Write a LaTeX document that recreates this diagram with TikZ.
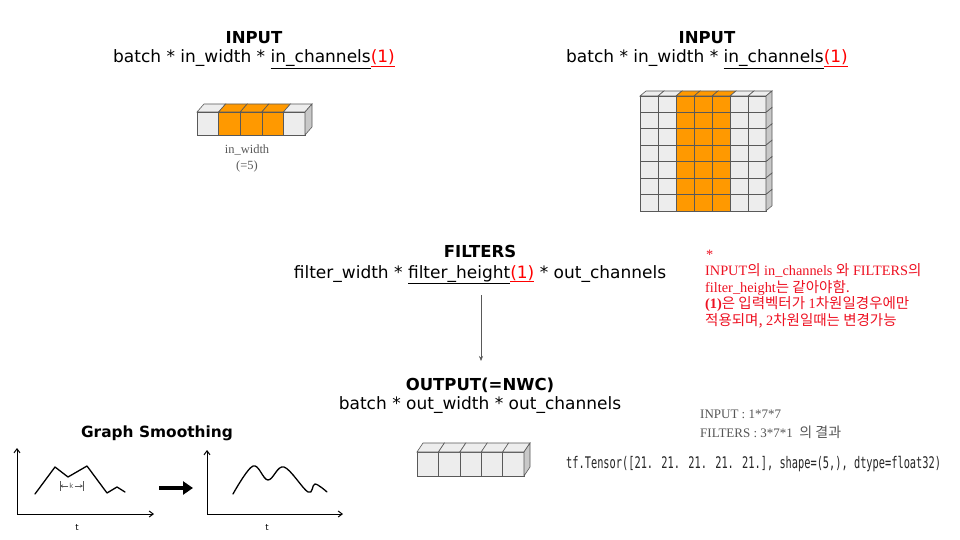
\documentclass[tikz,border=0pt]{standalone}
\usepackage{fontspec}
\usepackage{graphicx}
\setmainfont{Liberation Serif}
\newfontfamily\comicfont{DejaVu Sans}
\newfontfamily\krfont{Noto Sans CJK KR}
\newfontfamily\codefont{DejaVu Sans Mono}
\usetikzlibrary{arrows.meta}
\definecolor{cellgray}{HTML}{EDEDED}
\definecolor{sidegray}{HTML}{C8C8C8}
\definecolor{edgegray}{HTML}{595959}
\definecolor{cellorange}{HTML}{FF9900}
\definecolor{notered}{HTML}{EE1122}
\definecolor{infogray}{HTML}{555555}
\newcommand{\kr}[1]{{\krfont\fontsize{14.5}{16.5}\selectfont #1}}
\newcommand{\krsmall}[1]{{\krfont\fontsize{14}{19}\selectfont #1}}
% front face, top face and side face of one cell: x, y, w, h, fill, dx, dy
\newcommand{\frontcell}[5]{\filldraw[cellline, fill=#5] (#1,#2) rectangle ++(#3,#4);}
\newcommand{\topcell}[7]{\filldraw[cellline, fill=#5] (#1,#2) -- ++(#6,-#7) -- ++(#3,0) -- ++(-#6,#7) -- cycle;}
\newcommand{\sidecell}[7]{\filldraw[cellline, fill=sidegray] (#1+#3,#2) -- ++(#6,-#7) -- ++(0,#4) -- ++(-#6,#7) -- cycle;}
\tikzset{
  title/.style={font=\comicfont\bfseries\fontsize{16.5}{20}\selectfont, anchor=base, inner sep=0pt},
  dims/.style={font=\comicfont\fontsize{17}{20}\selectfont, anchor=base, inner sep=0pt},
  cellline/.style={draw=edgegray, line width=0.6pt},
  note/.style={font=\fontsize{14.3}{16.5}\selectfont, text=notered, anchor=base west, inner sep=0pt, align=left},
  info/.style={font=\fontsize{13}{19}\selectfont, text=infogray, anchor=base west, inner sep=0pt, align=left},
  axis/.style={line width=1pt, -{Straight Barb[length=4pt,width=6pt]}},
  curve/.style={line width=1.3pt, line join=round, line cap=round},
  tlabel/.style={font=\comicfont\fontsize{8.5}{9}\selectfont, inner sep=0pt},
}
\begin{document}
\begin{tikzpicture}[x=1pt, y=-1pt]
  \useasboundingbox[fill=white] (0,0) rectangle (960,540);

  % input (1D)
  \node[title] (intitle) at (254,44) {INPUT};
  \node[dims] (inshape) at (254,63) {batch * in\_width * \underline{in\_channels}\textcolor{red}{\underline{(1)}}};
  \foreach \i/\fc in {0/cellgray,1/cellorange,2/cellorange,3/cellorange,4/cellgray}{
    \frontcell{197+21.6*\i}{112}{21.6}{23}{\fc}
    \topcell{197+21.6*\i}{112}{21.6}{23}{\fc}{7}{8}
  }
  \sidecell{197+21.6*4}{112}{21.6}{23}{}{7}{8}
  \node[font=\fontsize{12.5}{16}\selectfont, text=edgegray, align=center, anchor=base] (inwidth) at (247,170) {in\_width\\(=5)};

  % input (2D)
  \node[title] (intitle2) at (707,44) {INPUT};
  \node[dims] (inshape2) at (707,63) {batch * in\_width * \underline{in\_channels}\textcolor{red}{\underline{(1)}}};
  \foreach \c/\fc in {0/cellgray,1/cellgray,2/cellorange,3/cellorange,4/cellorange,5/cellgray,6/cellgray}{
    \foreach \r in {0,...,6}{
      \frontcell{640+18*\c}{96+16.4*\r}{18}{16.4}{\fc}
    }
    \topcell{640+18*\c}{96}{18}{16.4}{\fc}{6}{5}
  }
  \foreach \r in {0,...,6}{
    \sidecell{640+18*6}{96+16.4*\r}{18}{16.4}{}{6}{5}
  }

  % filters
  \node[title] (filttitle) at (480,257) {FILTERS};
  \node[dims] (filtshape) at (480,278) {filter\_width * \underline{filter\_height}\textcolor{red}{\underline{(1)}} * out\_channels};
  \node[note] (star) at (706,259) {*};
  \node[note] (notetext) at (705,325) {INPUT\kr{의} in\_channels \kr{와} FILTERS\kr{의}\\
    filter\_height\kr{는 같아야함.}\\
    \textbf{(1)}\kr{은 입력벡터가} 1\kr{차원일경우에만}\\
    \kr{적용되며,} 2\kr{차원일때는 변경가능}};

  \coordinate (arrtop) at (481,295);
  \coordinate (arrbot) at (481,361);
  \draw[edgegray, line width=0.6pt, -{Stealth[length=5pt,width=4pt]}] (arrtop) -- (arrbot);

  % output
  \node[title] (outtitle) at (480,390) {OUTPUT(=NWC)};
  \node[dims] (outshape) at (480,409) {batch * out\_width * out\_channels};
  \node[info] (info) at (700,437) {INPUT : 1*7*7\\FILTERS : 3*7*1 \ \krsmall{의 결과}};
  \foreach \i in {0,...,4}{
    \frontcell{417+21.4*\i}{452}{21.4}{24}{cellgray}
    \topcell{417+21.4*\i}{452}{21.4}{24}{cellgray}{6}{9}
  }
  \sidecell{417+21.4*4}{452}{21.4}{24}{}{6}{9}
  \node[anchor=base west, inner sep=0pt, text=black!85] (result) at (566,468)
    {\scalebox{0.645}[1]{\codefont\fontsize{16}{18}\selectfont tf.Tensor([21. 21. 21. 21. 21.], shape=(5,), dtype=float32)}};

  % graph smoothing
  \node[title, font=\comicfont\bfseries\fontsize{15.4}{18}\selectfont] (smooth) at (157,437) {Graph Smoothing};
  \coordinate (oL) at (17,514);
  \draw[axis] (oL) -- (17,448);
  \draw[axis] (oL) -- (154,514);
  \draw[curve] (35,494) -- (55,467) -- (68,477) -- (87,466) -- (107,493) -- (117,487) -- (125,492);
  \node[font=\comicfont\fontsize{7}{8}\selectfont, text=edgegray, inner sep=1pt] (k) at (71.5,486) {k};
  \coordinate (kL) at (60,486);
  \coordinate (kR) at (83,486);
  \draw[edgegray, line width=0.7pt, -{Stealth[length=3pt,width=3pt]}] (k) -- (kL);
  \draw[edgegray, line width=0.7pt, -{Stealth[length=3pt,width=3pt]}] (k) -- (kR);
  \draw[edgegray, line width=0.8pt] (60,481) -- (60,491) (83,481) -- (83,491);
  \node[tlabel] (tL) at (77,528) {t};

  \draw[line width=3.2pt, -{Triangle[length=10pt,width=13pt]}] (159,488) -- (193,488);

  \coordinate (oR) at (207,514);
  \draw[axis] (oR) -- (207,450);
  \draw[axis] (oR) -- (343,514);
  \draw[curve] plot[smooth, tension=0.6] coordinates {(233,494) (253,466) (268,480) (284,467) (308,492) (315,484) (327,492)};
  \node[tlabel] (tR) at (267,528) {t};
\end{tikzpicture}
\end{document}
